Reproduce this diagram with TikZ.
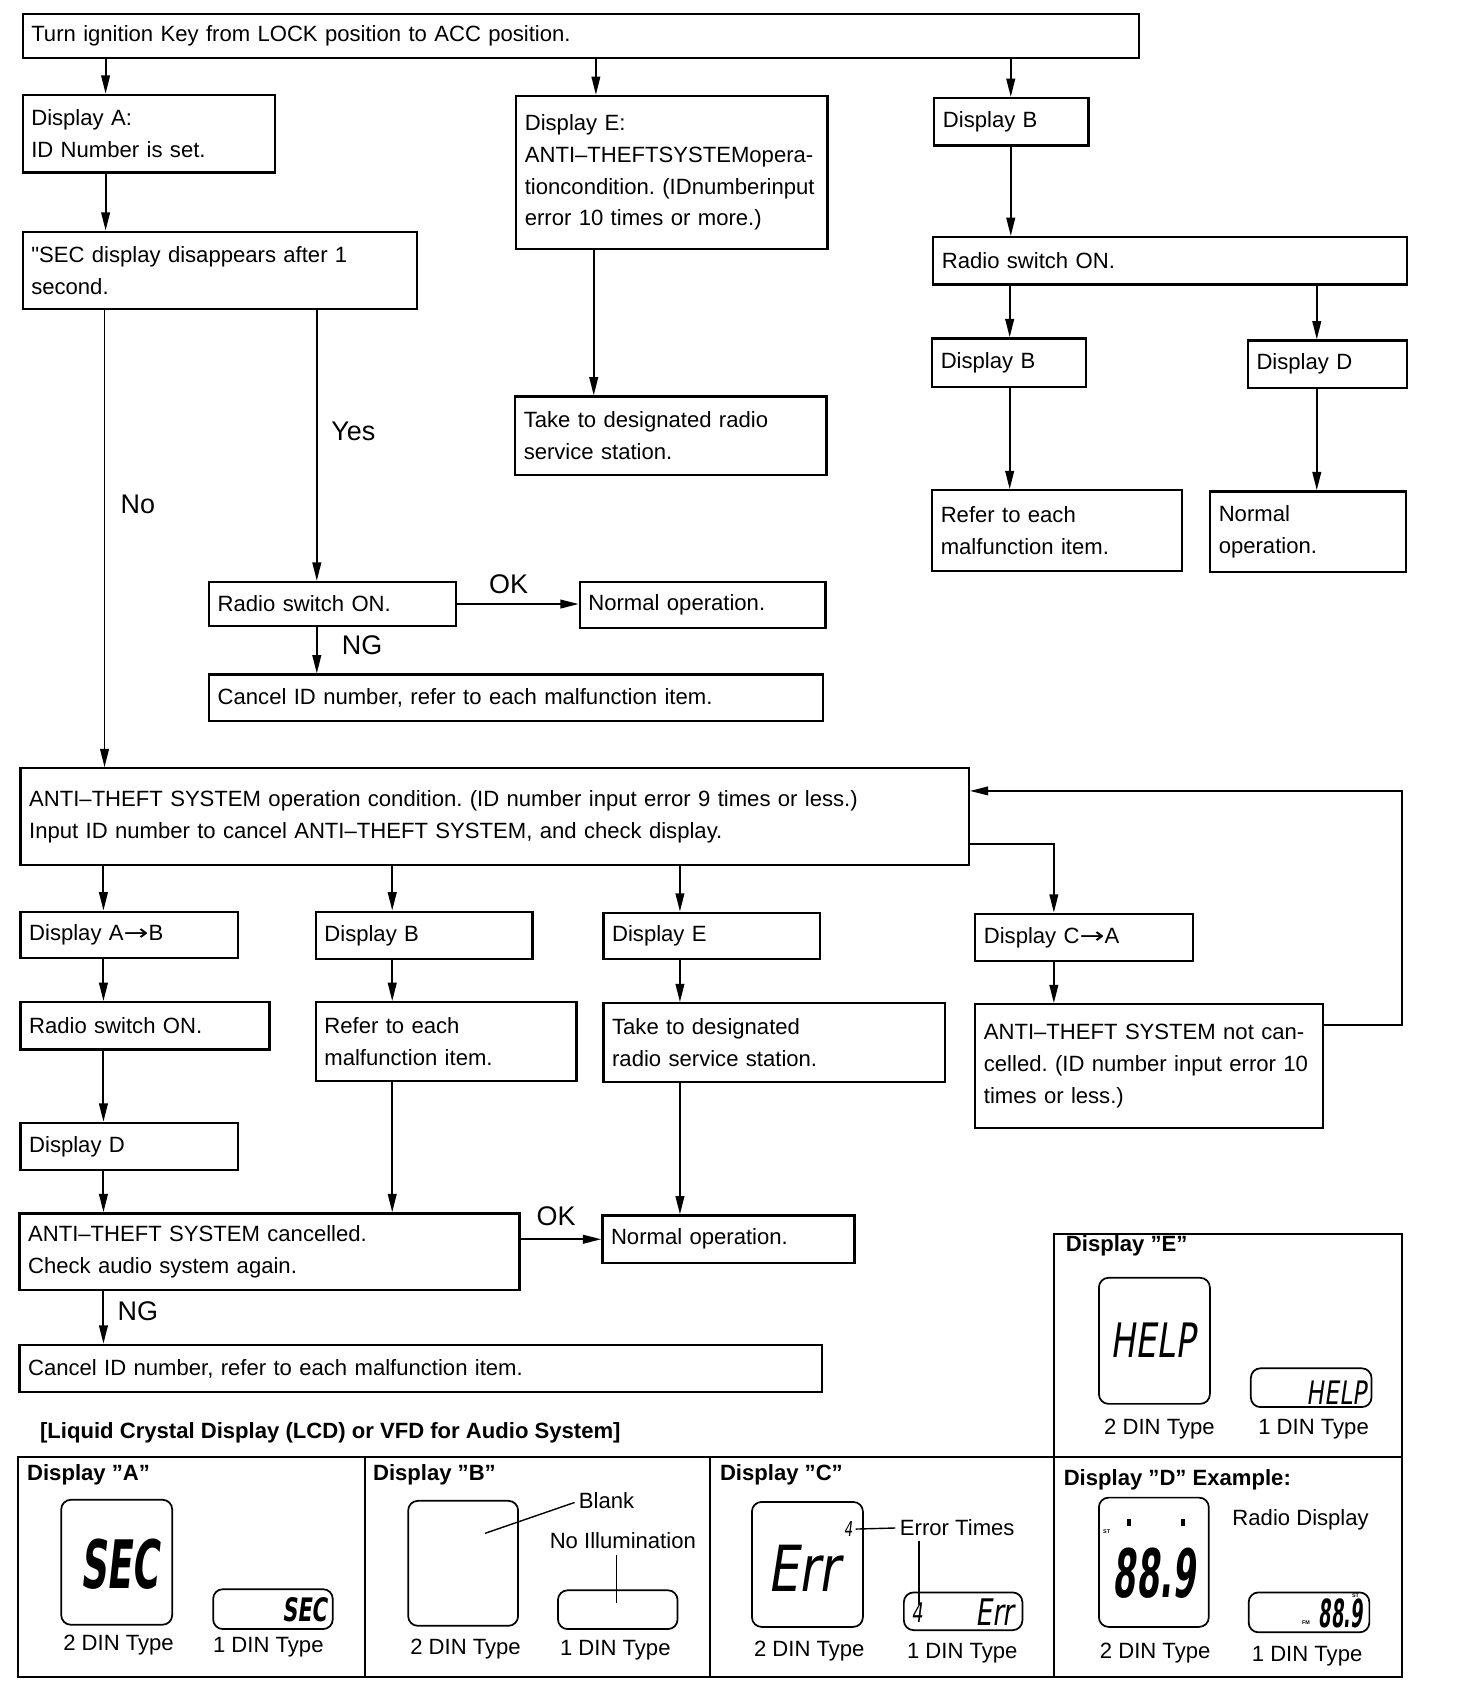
\documentclass[tikz,border=0pt]{standalone}
\usepackage{fontspec}
\usepackage{graphicx}
\setmainfont{Liberation Sans}[Ligatures=TeXOff]
\newfontfamily\lcdfont[FakeSlant=0.2]{DejaVu Sans}
\newfontfamily\arrfont{DejaVu Sans}
\usetikzlibrary{arrows.meta}
\newcommand{\lcdtxt}[3]{\scalebox{#1}[1]{\lcdfont\bfseries\fontsize{#2}{#2}\selectfont #3}}
\newcommand{\lcdthin}[3]{\scalebox{#1}[1]{\lcdfont\fontsize{#2}{#2}\selectfont #3}}
\newcommand{\longarr}{\scalebox{1.35}[1]{\arrfont →}}
\begin{document}
\frenchspacing
\begin{tikzpicture}[x=1pt,y=-1pt,
  box/.style={draw,line width=2.1pt,anchor=north west,inner xsep=8pt,inner ysep=0pt,align=left,font=\fontsize{20.5}{29.5}\selectfont},
  arr/.style={line width=1.8pt,-{Triangle[length=17pt,width=8pt]}},
  lbl/.style={inner sep=0pt,font=\fontsize{25}{25}\selectfont},
  txt/.style={inner sep=0pt,font=\fontsize{20.5}{24}\selectfont},
  hdr/.style={anchor=west,inner sep=0pt,font=\bfseries\fontsize{20.5}{24}\selectfont},
  panel/.style={line width=2.1pt},
  lcdbox/.style={draw,line width=1.6pt,rounded corners=9pt,anchor=north west,inner sep=0pt},
  lcd/.style={inner sep=0pt},
  tiny/.style={inner sep=0pt,font=\bfseries\fontsize{5}{5}\selectfont},
  lead/.style={line width=1.3pt}]
\useasboundingbox (0,0) rectangle (1366,1566.5);

% ---------- flow chart boxes ----------
\node[box,text width=1020pt,minimum height=41pt] (top) at (20,12) {Turn ignition Key from LOCK position to ACC position.};
\node[box,text width=218pt,minimum height=72pt] (dA) at (20,87) {Display A:\\ID Number is set.};
\node[box,text width=350pt,minimum height=72pt] (sec) at (20,214) {"SEC display disappears after 1\\second.};
\node[box,text width=273pt,minimum height=142pt] (dE1) at (478,88) {Display E:\\ANTI–THEFTSYSTEMopera-\\tioncondition. (IDnumberinput\\error 10 times or more.)};
\node[box,text width=273pt,minimum height=73pt] (take1) at (477,367) {Take to designated radio\\service station.};
\node[box,text width=127pt,minimum height=44pt] (dB1) at (866,90) {Display B};
\node[box,text width=424pt,minimum height=44pt] (radio1) at (865,219) {Radio switch ON.};
\node[box,text width=127pt,minimum height=45pt] (dB2) at (864,313) {Display B};
\node[box,text width=132pt,minimum height=44pt] (dD1) at (1157,315) {Display D};
\node[box,text width=216pt,minimum height=75pt] (refer1) at (864,454) {Refer to each\\malfunction item.};
\node[box,text width=166pt,minimum height=75pt] (normal1) at (1122,455) {Normal\\operation.};
\node[box,text width=213pt,minimum height=41pt] (radio2) at (193,539) {Radio switch ON.};
\node[box,text width=212pt,minimum height=43pt] (normal2) at (537,539) {Normal operation.};
\node[box,text width=554pt,minimum height=43pt] (cancel1) at (193,625) {Cancel ID number, refer to each malfunction item.};
\node[box,text width=864pt,minimum height=90pt] (anti) at (18,712) {ANTI–THEFT SYSTEM operation condition. (ID number input error 9 times or less.)\\Input ID number to cancel ANTI–THEFT SYSTEM, and check display.};
\node[box,text width=186pt,minimum height=43pt] (dAB) at (18,845) {Display A\longarr B};
\node[box,text width=215pt,minimum height=44pt] (radio3) at (18,929) {Radio switch ON.};
\node[box,text width=186pt,minimum height=44pt] (dD2) at (18,1041) {Display D};
\node[box,text width=448pt,minimum height=71pt] (cancelled) at (17,1125) {ANTI–THEFT SYSTEM cancelled.\\Check audio system again.};
\node[box,text width=218pt,minimum height=44pt] (normal3) at (558,1127) {Normal operation.};
\node[box,text width=729pt,minimum height=44pt] (cancel2) at (17,1247) {Cancel ID number, refer to each malfunction item.};
\node[box,text width=185pt,minimum height=44pt] (dB3) at (292,845) {Display B};
\node[box,text width=226pt,minimum height=73pt] (refer2) at (292,929) {Refer to each\\malfunction item.};
\node[box,text width=185pt,minimum height=43pt] (dE2) at (559,846) {Display E};
\node[box,text width=301pt,minimum height=73pt] (take2) at (559,930) {Take to designated\\radio service station.};
\node[box,text width=186pt,minimum height=44pt] (dCA) at (904,847) {Display C\longarr A};
\node[box,text width=307pt,minimum height=115pt] (notc) at (904,931) {\makebox[307pt][s]{ANTI–THEFT SYSTEM not can-}\\\makebox[307pt][s]{celled. (ID number input error 10}\\times or less.)};

% ---------- helper coordinates ----------
\coordinate (xa) at (98,0);
\coordinate (xno) at (97,0);
\coordinate (xyes) at (294,0);
\coordinate (xe) at (553,0);
\coordinate (xe2) at (551,0);
\coordinate (xbb) at (938,0);
\coordinate (xb2) at (937,0);
\coordinate (xd1) at (1222,0);
\coordinate (xc1) at (96,0);
\coordinate (xc2) at (364,0);
\coordinate (xc3) at (631,0);
\coordinate (xc4) at (978,0);
\coordinate (xr) at (1301,0);
\coordinate (yca) at (0,783);
\coordinate (yfb) at (0,951);
\coordinate (yfb2) at (0,734);

% ---------- connectors ----------
\draw[arr] (top.south -| xa) -- (dA.north -| xa);
\draw[arr] (top.south -| xe) -- (dE1.north -| xe);
\draw[arr] (top.south -| xbb) -- (dB1.north -| xbb);
\draw[arr] (dA.south -| xa) -- (sec.north -| xa);
\draw[arr] (sec.south -| xno) -- (anti.north -| xno);
\draw[arr] (sec.south -| xyes) -- (radio2.north -| xyes);
\draw[arr] (radio2.east) -- (normal2.west |- radio2.east);
\draw[arr] (radio2.south -| xyes) -- (cancel1.north -| xyes);
\draw[arr] (dE1.south -| xe2) -- (take1.north -| xe2);
\draw[arr] (dB1.south -| xbb) -- (radio1.north -| xbb);
\draw[arr] (radio1.south -| xb2) -- (dB2.north -| xb2);
\draw[arr] (radio1.south -| xd1) -- (dD1.north -| xd1);
\draw[arr] (dB2.south -| xb2) -- (refer1.north -| xb2);
\draw[arr] (dD1.south -| xd1) -- (normal1.north -| xd1);
\draw[arr] (anti.south -| xc1) -- (dAB.north -| xc1);
\draw[arr] (anti.south -| xc2) -- (dB3.north -| xc2);
\draw[arr] (anti.south -| xc3) -- (dE2.north -| xc3);
\draw[arr] (anti.east |- yca) -| (dCA.north -| xc4);
\draw[arr] (notc.east |- yfb) -- (xr |- yfb) |- (anti.east |- yfb2);
\draw[arr] (dAB.south -| xc1) -- (radio3.north -| xc1);
\draw[arr] (radio3.south -| xc1) -- (dD2.north -| xc1);
\draw[arr] (dD2.south -| xc1) -- (cancelled.north -| xc1);
\draw[arr] (cancelled.south -| xc1) -- (cancel2.north -| xc1);
\draw[arr] (dB3.south -| xc2) -- (refer2.north -| xc2);
\draw[arr] (refer2.south -| xc2) -- (cancelled.north -| xc2);
\draw[arr] (dE2.south -| xc3) -- (take2.north -| xc3);
\draw[arr] (take2.south -| xc3) -- (normal3.north -| xc3);
\draw[arr] (cancelled.east |- normal3.west) -- (normal3.west);
\draw[arr] (dCA.south -| xc4) -- (notc.north -| xc4);

% ---------- connector labels ----------
\node[lbl] (lno) at (128,468) {No};
\node[lbl] (lyes) at (328,400) {Yes};
\node[lbl] (lok1) at (472,542) {OK};
\node[lbl] (lng1) at (336,599) {NG};
\node[lbl] (lok2) at (516,1129) {OK};
\node[lbl] (lng2) at (128,1217) {NG};

% ---------- display panels ----------
\node[hdr] (ttl) at (37,1330) {[Liquid Crystal Display (LCD) or VFD for Audio System]};
\draw[panel] (17,1352) rectangle (1301,1556);
\draw[panel] (339,1352) -- (339,1556);
\draw[panel] (659,1352) -- (659,1556);
\draw[panel] (978,1145) rectangle (1301,1352);
\draw[panel] (978,1352) -- (978,1556);

% Display A
\node[hdr] (hA) at (25,1369) {Display ”A”};
\node[lcdbox,minimum width=103pt,minimum height=116pt] (a2) at (56,1391) {};
\node[lcdbox,minimum width=111pt,minimum height=37pt] (a1) at (197,1474) {};
\node[lcd] (a2t) at (111,1452) {\lcdtxt{0.55}{62}{SEC}};
\node[lcd,anchor=east] (a1t) at (304,1494) {\lcdtxt{0.65}{30}{SEC}};
\node[txt] (a2l) at (110,1527) {2 DIN Type};
\node[txt] (a1l) at (249,1529) {1 DIN Type};

% Display B
\node[hdr] (hB) at (346,1369) {Display ”B”};
\node[lcdbox,minimum width=102pt,minimum height=116pt] (b2) at (378,1392) {};
\node[lcdbox,minimum width=111pt,minimum height=36pt] (b1) at (517,1475) {};
\node[txt,anchor=west] (blank) at (537,1393) {Blank};
\coordinate (blk) at (450,1423);
\draw[lead,shorten >=4pt] (blk) -- (blank.west);
\node[txt] (noill) at (578,1430) {No Illumination};
\coordinate (xni) at (572,0);
\coordinate (nie) at (572,1488);
\draw[lead] ([yshift=-5pt]noill.south -| xni) -- (nie);
\node[txt] (b2l) at (432,1530) {2 DIN Type};
\node[txt] (b1l) at (571,1531) {1 DIN Type};

% Display C
\node[hdr] (hC) at (668,1369) {Display ”C”};
\node[lcdbox,minimum width=103pt,minimum height=116pt] (c2) at (697,1393) {};
\node[lcdbox,minimum width=110pt,minimum height=35pt] (c1) at (838,1477) {};
\node[lcd] (c2t) at (745,1455) {\lcdthin{0.78}{59}{Err}};
\node[lcd] (c2n) at (787,1419) {\lcdthin{0.65}{19}{4}};
\node[lcd] (c1n) at (851,1497) {\lcdthin{0.65}{25}{4}};
\node[lcd,anchor=east] (c1t) at (941,1496) {\lcdthin{0.72}{34}{Err}};
\node[txt,anchor=west] (errt) at (835,1418) {Error Times};
\draw[lead] ([xshift=3pt]c2n.east) -- ([xshift=-4pt]errt.west);
\coordinate (xet) at (853,0);
\draw[lead] ([yshift=-4pt]errt.south -| xet) -- ([yshift=-2pt]c1n.north -| xet);
\node[txt] (c2l) at (751,1532) {2 DIN Type};
\node[txt] (c1l) at (893,1534) {1 DIN Type};

% Display D
\node[hdr] (hD) at (987,1373) {Display ”D” Example:};
\node[lcdbox,minimum width=102pt,minimum height=120pt] (d2) at (1019,1389) {};
\node[lcdbox,minimum width=112pt,minimum height=37pt] (d1) at (1158,1477) {};
\fill (1046,1410) rectangle (1050,1416);
\fill (1096,1410) rectangle (1100,1416);
\node[tiny] (d2st) at (1027,1421) {ST};
\node[lcd] (d2t) at (1071,1460) {\lcdtxt{0.5}{62}{88.9}};
\node[lcd,anchor=east] (d1t) at (1265,1497) {\lcdtxt{0.46}{36}{88.9}};
\node[tiny] (d1st) at (1258,1481) {ST};
\node[tiny] (d1fm) at (1212,1506) {FM};
\node[txt] (rdisp) at (1207,1410) {Radio Display};
\node[txt] (d2l) at (1072,1534) {2 DIN Type};
\node[txt] (d1l) at (1213,1537) {1 DIN Type};

% Display E
\node[hdr] (hE) at (989,1156) {Display ”E”};
\node[lcdbox,minimum width=103pt,minimum height=117pt] (e2) at (1019,1185) {};
\node[lcdbox,minimum width=112pt,minimum height=36pt] (e1) at (1160,1269) {};
\node[lcd] (e2t) at (1070,1244) {\lcdthin{0.7}{44}{HELP}};
\node[lcd,anchor=east] (e1t) at (1268,1292) {\lcdthin{0.72}{30}{HELP}};
\node[txt] (e2l) at (1076,1326) {2 DIN Type};
\node[txt] (e1l) at (1219,1326) {1 DIN Type};
\end{tikzpicture}
\end{document}
